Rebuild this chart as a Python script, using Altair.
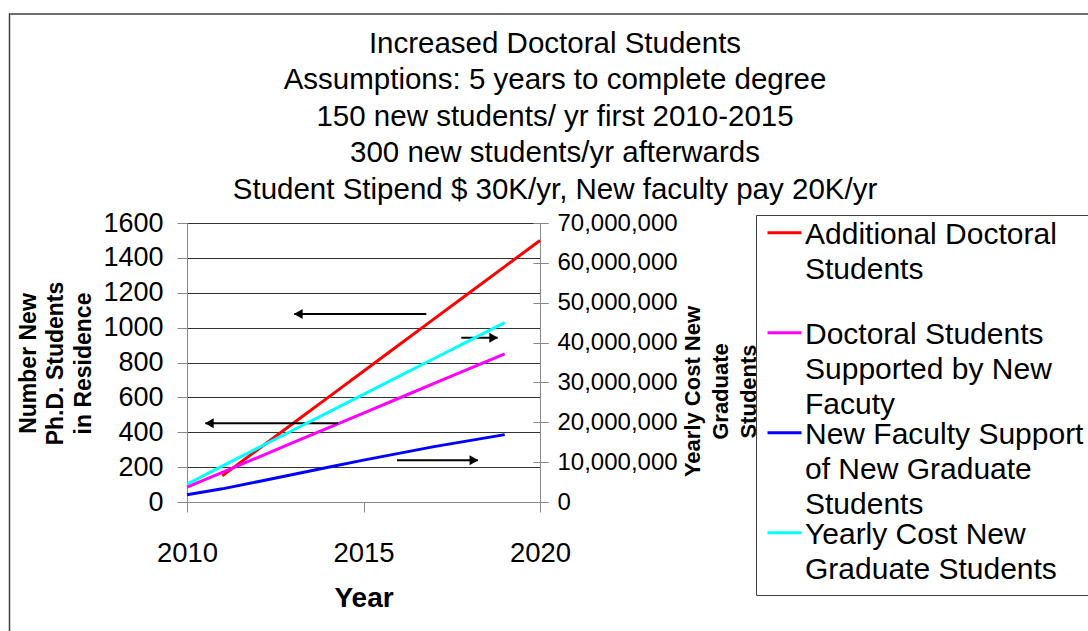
import altair as alt
import pandas as pd

FONT = "Liberation Sans"

# ---- series values ----
years = [2010, 2011, 2012, 2013, 2014, 2015, 2016, 2017, 2018, 2019]
years_additional = [2011, 2012, 2013, 2014, 2015, 2016, 2017, 2018, 2019, 2020]
additional_students = [150, 300, 450, 600, 750, 900, 1050, 1200, 1350, 1500]
faculty_supported = [85, 170, 255, 340, 425, 510, 595, 680, 765, 850]
faculty_support_cost = [1.8e6, 3.3e6, 5.1e6, 6.9e6, 8.7e6, 10.5e6, 12.2e6, 13.9e6, 15.4e6, 16.9e6]
yearly_cost = [4.5e6, 9.0e6, 13.5e6, 18.0e6, 22.5e6, 27.0e6, 31.5e6, 36.0e6, 40.5e6, 45.0e6]

series_names = [
    "Additional Doctoral Students",
    "Doctoral Students Supported by New Facuty",
    "New Faculty Support of New Graduate Students",
    "Yearly Cost New Graduate Students",
]
series_colors = ["#FF0000", "#FF00FF", "#0000FF", "#00FFFF"]
legend_lines = [
    ["Additional Doctoral", "Students"],
    ["Doctoral Students", "Supported by New", "Facuty"],
    ["New Faculty Support", "of New Graduate", "Students"],
    ["Yearly Cost New", "Graduate Students"],
]

title_lines = [
    "Increased Doctoral Students",
    "Assumptions: 5 years to complete degree",
    "150 new students/ yr first 2010-2015",
    "300 new students/yr afterwards",
    "Student Stipend $ 30K/yr, New faculty pay 20K/yr",
]
left_title = ["Number New", "Ph.D. Students", "in Residence"]
right_title = ["Yearly Cost New", "Graduate", "Students"]

x_ticks = [2010, 2015, 2020]
left_ticks = [0, 200, 400, 600, 800, 1000, 1200, 1400, 1600]
right_ticks = [0, 10e6, 20e6, 30e6, 40e6, 50e6, 60e6, 70e6]

# arrow annotations (in left-axis units): shaft start, tip, level
arrow_start = [2016.78, 2014.28, 2017.77, 2015.95]
arrow_tip = [2013.04, 2010.52, 2018.80, 2018.24]
arrow_level = [1078, 452, 942, 240]
arrow_dir = ["left", "left", "right", "right"]

# ---- tables ----
left_df = pd.concat([
    pd.DataFrame({"year": years_additional, "value": additional_students, "series": series_names[0]}),
    pd.DataFrame({"year": years, "value": faculty_supported, "series": series_names[1]}),
])
right_df = pd.concat([
    pd.DataFrame({"year": years, "value": faculty_support_cost, "series": series_names[2]}),
    pd.DataFrame({"year": years, "value": yearly_cost, "series": series_names[3]}),
])
arrows = pd.DataFrame({"start": arrow_start, "tip": arrow_tip, "value": arrow_level, "dir": arrow_dir})

# multi-line legend labels
label_expr = ""
for name, lines in zip(series_names, legend_lines):
    arr = "[" + ",".join("'" + l + "'" for l in lines) + "]"
    label_expr += f"datum.label == '{name}' ? {arr} : "
label_expr += "datum.label"

x_scale = alt.Scale(domain=[2010, 2020], nice=False, zero=False)

x_enc = alt.X(
    "year:Q",
    scale=x_scale,
    axis=alt.Axis(
        values=x_ticks, format="d", grid=False, tickSize=10,
        labelFontSize=27.5, labelPadding=27, labelFlush=False,
        title="Year", titleFontSize=28, titleFontWeight="bold", titlePadding=18,
    ),
)

y_left = alt.Y(
    "value:Q",
    scale=alt.Scale(domain=[0, 1600], nice=False),
    axis=alt.Axis(
        orient="left", values=left_ticks, format="d", grid=True,
        gridColor="#333333", gridWidth=1,
        tickSize=10, labelFontSize=27, labelPadding=14,
        title=left_title, titleFontSize=23, titleFontWeight="bold", titleLineHeight=27.5,
        titleAngle=270, titleX=-159, titleY=140, titleBaseline="middle", titleAlign="center",
    ),
)

y_right = alt.Y(
    "value:Q",
    scale=alt.Scale(domain=[0, 70e6], nice=False),
    axis=alt.Axis(
        orient="right", values=right_ticks, format=",d", grid=False,
        tickSize=8, labelFontSize=24, labelPadding=9,
        title=right_title, titleFontSize=22, titleFontWeight="bold", titleLineHeight=28,
        titleAngle=270, titleX=152, titleY=168, titleBaseline="middle", titleAlign="center",
    ),
)

# inner half of the crossing ticks on the right axis
y_right_cross = alt.Y(
    "value:Q",
    scale=alt.Scale(domain=[0, 70e6], nice=False),
    axis=alt.Axis(
        orient="right", values=right_ticks, grid=False, domain=False, labels=False,
        tickSize=15, offset=-7, title=None,
    ),
)

color = alt.Color(
    "series:N",
    scale=alt.Scale(domain=series_names, range=series_colors),
    legend=alt.Legend(
        orient="none", legendX=569, legendY=-8, title=None, direction="vertical",
        strokeColor="#404040", fillColor="white", padding=10,
        symbolType="M-1,-0.63H1", symbolSize=1156, symbolStrokeWidth=3,
        labelFontSize=30, labelFont=FONT, labelLimit=400, labelExpr=label_expr,
        labelBaseline="alphabetic", labelOffset=2, gridAlign="all", rowPadding=-1,
    ),
)

# outer chart border
frame = alt.Chart(pd.DataFrame({"k": [0]})).mark_rect(
    filled=False, stroke="#404040", strokeWidth=1.5
).encode(
    x=alt.value(-177.5), x2=alt.value(920), y=alt.value(-209), y2=alt.value(420)
)

left_lines = alt.Chart(left_df).mark_line(strokeWidth=3).encode(
    x=x_enc, y=y_left, color=color
)
shafts = alt.Chart(arrows).mark_rule(color="black", strokeWidth=2).encode(
    x=alt.X("start:Q", scale=x_scale), x2="tip:Q", y=y_left,
)
heads_left = alt.Chart(arrows).transform_filter("datum.dir == 'left'").mark_point(
    shape="triangle-left", filled=True, size=100, color="black", opacity=1, xOffset=4
).encode(x=alt.X("tip:Q", scale=x_scale), y=y_left)
heads_right = alt.Chart(arrows).transform_filter("datum.dir == 'right'").mark_point(
    shape="triangle-right", filled=True, size=100, color="black", opacity=1, xOffset=-4
).encode(x=alt.X("tip:Q", scale=x_scale), y=y_left)

left_layer = alt.layer(left_lines, shafts, heads_left, heads_right)

right_lines = alt.Chart(right_df).mark_line(strokeWidth=3).encode(
    x=x_enc, y=y_right, color=color
)
cross_ticks = alt.Chart(right_df).mark_line(opacity=0).encode(
    x=x_enc, y=y_right_cross
)

chart = alt.layer(frame, left_layer, right_lines, cross_ticks).resolve_scale(
    y="independent"
).properties(
    width=353, height=279, autosize="none",
    padding={"left": 187, "top": 223, "right": 548, "bottom": 129},
    background="white",
    title=alt.TitleParams(
        text=title_lines, fontSize=29.5, font=FONT, fontWeight="normal",
        lineHeight=36.5, anchor="middle", dx=191.5, dy=210, offset=18, color="black",
    ),
).configure_axis(
    labelFont=FONT, titleFont=FONT, labelColor="black", titleColor="black",
    domainColor="black", tickColor="black", domainWidth=1, tickWidth=1,
).configure_view(
    strokeWidth=0
).configure(
    style={"guide-label": {"lineHeight": 35}}
)

chart.save("out.html", embed_options={"renderer": "svg", "actions": False})
